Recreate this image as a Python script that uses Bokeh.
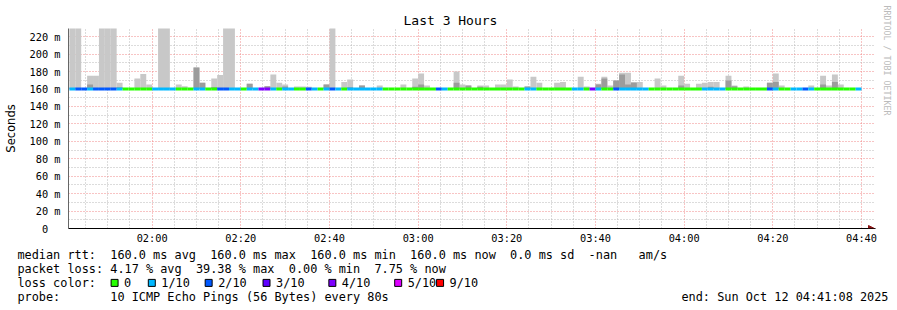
import math
from bokeh.plotting import figure
from bokeh.models import FixedTicker, Arrow, NormalHead, Range1d, Title
from bokeh.layouts import column
from bokeh.core.properties import value
from bokeh.embed import file_html
from bokeh.resources import INLINE

# ---------------- data ----------------
title_text = "Last 3 Hours"
window_start = "01:41:08"
window_end = "04:41:08"
first_step = "01:41:20"
step_seconds = 80
median_ms = 160.0

# packet loss per step, in tenths (10 pings)
loss_tenths = [
    1, 2, 2, 1, 2, 2, 2, 2, 1, 0,
    0, 0, 0, 0, 1, 1, 1, 1, 0, 0,
    0, 1, 1, 0, 0, 2, 2, 1, 1, 0,
    1, 1, 4, 4, 1, 0, 1, 1, 0, 0,
    2, 1, 0, 1, 2, 1, 0, 1, 1, 1,
    1, 1, 1, 0, 0, 0, 0, 0, 0, 0,
    0, 0, 2, 1, 0, 0, 0, 0, 0, 0,
    0, 0, 0, 0, 0, 0, 0, 1, 1, 0,
    0, 0, 0, 0, 0, 1, 1, 0, 4, 1,
    0, 0, 2, 1, 1, 1, 1, 1, 0, 0,
    0, 0, 0, 0, 0, 0, 0, 1, 1, 1,
    1, 0, 0, 0, 0, 0, 0, 0, 2, 1,
    0, 0, 1, 1, 2, 1, 0, 0, 0, 0,
    0, 0, 0, 1,
]

# outer smoke (max rtt of the step, ms)
smoke_hi = [
    240, 240, 160, 175, 175, 240, 240, 240, 167, 160,
    160, 172, 177, 165, 160, 240, 240, 160, 165, 163,
    160, 184.5, 167, 160, 172, 176, 240, 240, 160, 160,
    166, 160, 160, 163, 176.5, 167, 165, 160, 162.7, 162.7,
    162.5, 160, 160, 165, 240, 160, 168, 170.7, 160, 164,
    160, 160, 164, 160, 160, 160, 165, 160, 172, 177.6,
    164, 160, 160, 160, 160, 180, 165, 164, 160, 164,
    164, 160, 165, 165, 170.7, 162.7, 160, 162.7, 174, 167,
    160, 160, 167, 168, 160, 160, 174, 162.7, 160, 166,
    174, 164, 169.6, 178.7, 178.7, 168, 168, 160, 160, 172,
    164, 160, 160, 175, 166, 160, 166, 167, 168, 168,
    160, 175, 164, 160, 162.7, 160, 160, 160, 167, 177.6,
    164, 160, 160, 160, 160, 164, 160, 175, 164, 176.5,
    165, 160, 160, 160,
]

# inner (denser) smoke top, ms
smoke_lo = [
    160, 160, 160, 165, 160, 160, 160, 160, 162, 160,
    160, 160, 160, 160, 160, 160, 160, 160, 160, 160,
    160, 184.5, 167, 160, 162, 160, 160, 160, 160, 160,
    166, 160, 160, 163, 160, 160, 162.7, 160, 160, 160,
    160, 160, 160, 165, 160, 160, 160, 162, 160, 164,
    160, 160, 160, 160, 160, 160, 160, 160, 162.5, 165,
    160, 160, 160, 160, 160, 167, 160, 164, 160, 162.5,
    160, 160, 160, 160, 160, 160, 160, 162.7, 160, 160,
    160, 160, 160, 160, 160, 160, 160, 160, 160, 165,
    172, 160, 169.6, 176.5, 165, 167, 160, 160, 160, 160,
    160, 160, 160, 164, 160, 160, 160, 160, 162.5, 160,
    160, 169.6, 163, 160, 160, 160, 160, 160, 167, 168,
    160, 160, 160, 160, 160, 160, 160, 165, 160, 168,
    160, 160, 160, 160,
]

x_tick_times = ["02:00", "02:20", "02:40", "03:00", "03:20", "03:40", "04:00", "04:20", "04:40"]
y_ticks_ms = [0, 20, 40, 60, 80, 100, 120, 140, 160, 180, 200, 220]
y_axis_title = "Seconds"

loss_levels = [0, 1, 2, 3, 4, 5, 9]
loss_labels = ["0", "1/10", "2/10", "3/10", "4/10", "5/10", "9/10"]
loss_palette = ["#26ff00", "#00b8ff", "#0059ff", "#5e00ff", "#7e00ff", "#dd00ff", "#ff0000"]

# statistics lines: (text, character column)
stats_lines = [
    [("median rtt:", 0), ("160.0 ms avg", 13), ("160.0 ms max", 27), ("160.0 ms min", 41),
     ("160.0 ms now", 55), ("0.0 ms sd", 69), ("-nan", 80), ("am/s", 87)],
    [("packet loss:", 0), ("4.17 % avg", 13), ("39.38 % max", 25), ("0.00 % min", 38),
     ("7.75 % now", 50)],
    [("loss color:", 0)],
    [("probe:", 0), ("10 ICMP Echo Pings (56 Bytes) every 80s", 13),
     ("end: Sun Oct 12 04:41:08 2025", 93)],
]
watermark = "RRDTOOL / TOBI OETIKER"

# ---------------- helpers ----------------
def hms(s):
    parts = [int(v) for v in s.split(":")]
    while len(parts) < 3:
        parts.append(0)
    h, m, sec = parts
    return h * 60 + m + sec / 60.0

def columns(tokens, width):
    s = ""
    for text, col in tokens:
        s += "\u00a0" * max(col - len(s), 1 if s else 0) + text
    return s + "\u00a0" * (width - len(s))

W = 897
MAIN_H, LEG_H = 246, 64
FRAME_L, FRAME_T, FRAME_R, FRAME_B = 66, 28, 875, 228
PX_PER_MIN = 800 / 180.0
X0 = hms(window_start)
X1 = X0 + (FRAME_R - FRAME_L) / PX_PER_MIN
Y0, Y1 = 0.0, 229.3

MONO = "DejaVu Sans Mono"
color_of = dict(zip(loss_levels, loss_palette))

t0 = hms(first_step)
dt = step_seconds / 60.0
n = len(loss_tenths)
lefts = [t0 + i * dt for i in range(n)]
rights = [l + dt for l in lefts]

# ---------------- main chart ----------------
p = figure(width=W, height=MAIN_H, x_range=Range1d(X0, X1), y_range=Range1d(Y0, Y1),
           output_backend="svg", toolbar_location=None,
           min_border_left=FRAME_L, min_border_right=W - FRAME_R,
           min_border_top=FRAME_T, min_border_bottom=MAIN_H - FRAME_B,
           background_fill_color="white", border_fill_color="white")
p.outline_line_color = None

x_major = [hms(t) for t in x_tick_times]
x_minor = []
m = math.ceil(X0 / 5.0) * 5
while m < hms(window_end):
    if all(abs(m - v) > 1e-6 for v in x_major):
        x_minor.append(m)
    m += 5
y_minor = [v + 10 for v in y_ticks_ms]

p.xaxis.ticker = FixedTicker(ticks=x_major, minor_ticks=x_minor)
p.xaxis.major_label_overrides = {hms(t): t for t in x_tick_times}
p.yaxis.ticker = FixedTicker(ticks=y_ticks_ms, minor_ticks=y_minor)
p.yaxis.major_label_overrides = {v: (f"{v} m" if v else "0\u00a0\u00a0") for v in y_ticks_ms}

for ax in (p.xaxis, p.yaxis):
    ax.major_label_text_font = MONO
    ax.major_label_text_font_size = "10.3px"
    ax.major_label_text_color = "#000000"
    ax.major_tick_out = 0
    ax.major_tick_in = 0
    ax.minor_tick_out = 0
    ax.minor_tick_in = 0
p.xaxis.axis_line_color = "#000000"
p.yaxis.axis_line_color = "#666666"
p.xaxis.major_label_standoff = 3
p.yaxis.major_label_standoff = 8
p.yaxis.axis_label = y_axis_title
p.yaxis.axis_label_text_font = "DejaVu Sans"
p.yaxis.axis_label_text_font_style = "normal"
p.yaxis.axis_label_text_font_size = "11.5px"
p.yaxis.axis_label_text_color = "#000000"
p.yaxis.axis_label_standoff = 9

for g in (p.xgrid, p.ygrid):
    g.grid_line_color = "#f08888"
    g.grid_line_dash = "1 2"
    g.grid_line_width = 1
    g.minor_grid_line_color = "#b8b8b8"
    g.minor_grid_line_dash = "1 2"
    g.minor_grid_line_width = 1

hi_idx = [i for i in range(n) if smoke_hi[i] > median_ms]
p.quad(left=[lefts[i] for i in hi_idx], right=[rights[i] for i in hi_idx],
       bottom=[median_ms] * len(hi_idx), top=[smoke_hi[i] for i in hi_idx],
       fill_color="#c8c8c8", line_color=None)
lo_idx = [i for i in range(n) if smoke_lo[i] > median_ms]
p.quad(left=[lefts[i] for i in lo_idx], right=[rights[i] for i in lo_idx],
       bottom=[median_ms] * len(lo_idx), top=[smoke_lo[i] for i in lo_idx],
       fill_color="#9c9c9c", line_color=None)

p.segment(x0=lefts, x1=rights, y0=[median_ms] * n, y1=[median_ms] * n,
          line_color=[color_of[v] for v in loss_tenths], line_width=3, line_cap="butt")

arrow_col = "#8b1414"
p.add_layout(Arrow(end=NormalHead(size=6, fill_color=arrow_col, line_color=arrow_col),
                   x_start=X0, y_start=Y0, x_end=X0 + (874 - FRAME_L) / PX_PER_MIN, y_end=Y0,
                   line_color="#000000", line_width=1))

p.title.text = title_text
p.title.align = "left"
p.title.offset = 335
p.title.vertical_align = "middle"
p.title.standoff = -1
p.title.text_font = MONO
p.title.text_font_size = "13px"
p.title.text_font_style = "normal"
p.title.text_color = "#000000"

p.add_layout(Title(text=watermark, align="left", offset=-23, vertical_align="middle", standoff=10,
                   text_font=MONO, text_font_size="8.3px", text_font_style="normal",
                   text_color="#bbbbbb"), "right")

# ---------------- statistics strip ----------------
FS_PX = 11.86
CHAR_W = FS_PX * 0.60205
LINE_CHARS = 122
TEXT_LEFT = 14.5
ROW_OFF = -0.4            # y value v sits at strip pixel v - ROW_OFF
row_y = [8, 22, 36, 50]

q = figure(width=W, height=LEG_H, x_range=Range1d(FRAME_L, FRAME_R),
           y_range=Range1d(LEG_H + ROW_OFF, ROW_OFF),
           output_backend="svg", toolbar_location=None, x_axis_type=None,
           min_border_left=FRAME_L, min_border_right=W - FRAME_R, min_border_top=0, min_border_bottom=0,
           background_fill_color="white", border_fill_color="white")
q.outline_line_color = None
q.grid.visible = False
q.yaxis.ticker = FixedTicker(ticks=row_y, minor_ticks=[])
q.yaxis.major_label_overrides = {y: columns(tok, LINE_CHARS) for y, tok in zip(row_y, stats_lines)}
q.yaxis.major_label_text_font = MONO
q.yaxis.major_label_text_font_size = f"{FS_PX}px"
q.yaxis.major_label_text_color = "#000000"
q.yaxis.axis_line_color = None
q.yaxis.major_tick_line_color = None
q.yaxis.minor_tick_line_color = None
q.yaxis.major_tick_out = 0
q.yaxis.major_tick_in = 0
q.yaxis.major_label_standoff = int(round(FRAME_L - (TEXT_LEFT + LINE_CHARS * CHAR_W)))

# loss colour swatches and their labels (third row)
sw_left = [108.7, 146, 203, 261, 327, 393, 435]
sw_row = row_y[2]
q.quad(left=sw_left, right=[v + 7 for v in sw_left], top=[sw_row - 3.5] * 7, bottom=[sw_row + 3.5] * 7,
       fill_color=loss_palette, line_color="#000000", line_width=1)
q.text(x=[v + 13 for v in sw_left], y=[sw_row] * 7, text=loss_labels,
       text_font=value(MONO), text_font_size=f"{FS_PX}px", text_baseline="middle",
       text_align="left", text_color="#000000")

layout = column(p, q, spacing=0)
open("out.html", "w").write(file_html(layout, INLINE))
